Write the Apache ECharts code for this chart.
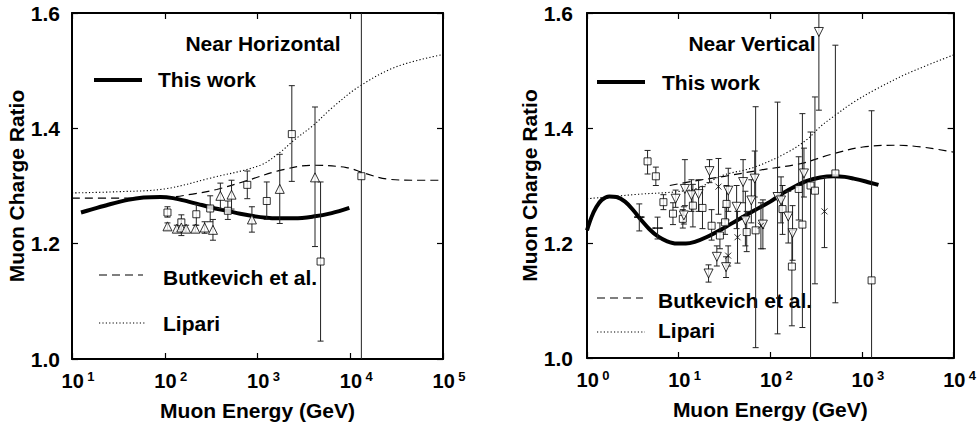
<!DOCTYPE html>
<html>
<head>
<meta charset="utf-8">
<script src="https://cdn.jsdelivr.net/npm/echarts@6/dist/echarts.min.js"></script>
<style>
html,body{margin:0;padding:0;background:#fff;}
#chart{width:979px;height:426px;}
</style>
</head>
<body>
<div id="chart"></div>
<script>
// ---------- tick labels ----------
const yTicks = [1.0, 1.2, 1.4, 1.6];
const leftXTicks = [10, 100, 1000, 10000, 100000];
const rightXTicks = [1, 10, 100, 1000, 10000];

// ---------- LEFT PANEL: Near Horizontal ----------
const leftThisWorkE = [12.5, 16, 25, 40, 59, 90, 123, 180, 251, 350, 468, 650, 891, 1250, 1622, 2500, 3981, 6310, 9772];
const leftThisWorkR = [1.254, 1.259, 1.268, 1.276, 1.280, 1.281, 1.279, 1.273, 1.267, 1.261, 1.257, 1.252, 1.248, 1.245, 1.244, 1.244, 1.247, 1.253, 1.262];
const leftButkE = [10, 30, 100, 200, 363, 794, 1738, 3981, 9120, 13800, 25000, 50000, 100000];
const leftButkR = [1.279, 1.279, 1.280, 1.286, 1.294, 1.310, 1.327, 1.336, 1.332, 1.323, 1.312, 1.310, 1.310];
const leftLipE = [10, 30, 100, 316, 1072, 1738, 2500, 3981, 6310, 12590, 31620, 100000];
const leftLipR = [1.288, 1.290, 1.295, 1.314, 1.336, 1.358, 1.380, 1.405, 1.435, 1.473, 1.507, 1.528];

const leftSqE  = [107, 151, 219, 309, 479, 776, 1259, 2344, 4786, 13180];
const leftSqR  = [1.254, 1.237, 1.251, 1.261, 1.257, 1.302, 1.274, 1.390, 1.169, 1.317];
const leftSqLo = [1.246, 1.225, 1.232, 1.238, 1.242, 1.278, 1.242, 1.308, 1.031, 0.95];
const leftSqHi = [1.264, 1.250, 1.268, 1.283, 1.274, 1.326, 1.307, 1.474, 1.307, 1.65];

const leftTriE  = [107, 135, 151, 170, 214, 269, 331, 398, 525, 871, 1738, 4169];
const leftTriR  = [1.230, 1.226, 1.228, 1.226, 1.226, 1.228, 1.224, 1.283, 1.285, 1.242, 1.295, 1.315];
const leftTriLo = [1.224, 1.220, 1.214, 1.220, 1.220, 1.218, 1.206, 1.261, 1.260, 1.220, 1.235, 1.195];
const leftTriHi = [1.236, 1.232, 1.242, 1.232, 1.232, 1.238, 1.242, 1.305, 1.310, 1.264, 1.355, 1.437];

// ---------- RIGHT PANEL: Near Vertical ----------
const rightThisWorkE = [1.0, 1.12, 1.26, 1.45, 1.75, 2.1, 2.6, 3.2, 3.9, 4.8, 6.0, 7.5, 9.5, 12, 15, 20, 29.5, 45, 67.6, 100, 132, 190, 251, 350, 490, 650, 813, 1100, 1514];
const rightThisWorkR = [1.222, 1.245, 1.262, 1.275, 1.281, 1.280, 1.272, 1.257, 1.240, 1.224, 1.211, 1.203, 1.199, 1.199, 1.202, 1.210, 1.224, 1.241, 1.257, 1.272, 1.285, 1.299, 1.308, 1.314, 1.316, 1.315, 1.312, 1.307, 1.301];
const rightButkE = [8, 15, 31.6, 79, 214, 457, 1023, 2570, 10000];
const rightButkR = [1.300, 1.308, 1.316, 1.327, 1.338, 1.354, 1.367, 1.370, 1.358];
const rightLipE = [1, 3.16, 15, 29.5, 67.6, 155, 251, 355, 490, 813, 1445, 3162, 10000];
const rightLipR = [1.277, 1.284, 1.294, 1.317, 1.332, 1.358, 1.380, 1.403, 1.420, 1.445, 1.468, 1.495, 1.527];

const rightSqE  = [4.58, 5.64, 6.82, 8.67, 11.1, 14.3, 18.2, 22.9, 28.2, 32.1, 33.3, 55.3, 69.2, 136, 172, 204, 224, 275, 307, 513, 1274];
const rightSqR  = [1.342, 1.316, 1.271, 1.251, 1.242, 1.265, 1.261, 1.230, 1.213, 1.236, 1.268, 1.219, 1.222, 1.259, 1.159, 1.294, 1.232, 1.300, 1.291, 1.321, 1.135];
const rightSqLo = [1.320, 1.300, 1.258, 1.232, 1.226, 1.228, 1.225, 1.205, 1.190, 1.215, 1.240, 1.185, 1.018, 1.215, 1.056, 1.240, 1.053, 0.950, 1.129, 1.096, 0.950];
const rightSqHi = [1.361, 1.332, 1.284, 1.270, 1.258, 1.302, 1.298, 1.258, 1.235, 1.262, 1.300, 1.255, 1.437, 1.300, 1.222, 1.350, 1.425, 1.393, 1.454, 1.544, 1.430];

const rightTriE  = [9.27, 11.4, 11.7, 13.8, 16.5, 21.7, 21.2, 26.1, 32.9, 34.8, 42.9, 50.5, 53.5, 67.6, 62.1, 83, 120, 131, 157, 175, 233, 339];
const rightTriR  = [1.277, 1.248, 1.294, 1.283, 1.285, 1.325, 1.147, 1.176, 1.158, 1.291, 1.263, 1.306, 1.239, 1.312, 1.274, 1.232, 1.280, 1.274, 1.246, 1.217, 1.321, 1.567];
const rightTriLo = [1.262, 1.233, 1.265, 1.255, 1.255, 1.305, 1.132, 1.160, 1.140, 1.255, 1.225, 1.270, 1.195, 1.280, 1.235, 1.190, 1.042, 1.235, 1.200, 1.170, 1.280, 1.431];
const rightTriHi = [1.292, 1.263, 1.345, 1.310, 1.310, 1.345, 1.162, 1.195, 1.176, 1.330, 1.300, 1.345, 1.290, 1.360, 1.310, 1.275, 1.445, 1.315, 1.290, 1.265, 1.365, 1.700];

const rightXE  = [27.2, 34.7, 43.9, 79, 390];
const rightXR  = [1.298, 1.178, 1.210, 1.230, 1.255];
const rightXLo = [1.250, 1.160, 1.165, 1.190, 1.192];
const rightXHi = [1.347, 1.195, 1.255, 1.270, 1.314];

const rightPlusE  = [3.72, 5.89];
const rightPlusR  = [1.245, 1.226];
const rightPlusLo = [1.221, 1.207];
const rightPlusHi = [1.268, 1.245];

// ---------- helpers ----------
const FONT = "'Liberation Sans', Arial, Helvetica, sans-serif";
const pairs = (xs, ys) => xs.map((x, i) => [x, ys[i]]);
const quads = (xs, ys, lo, hi) => xs.map((x, i) => [x, ys[i], lo[i], hi[i]]);

function errRender(params, api) {
  const x = api.value(0);
  const lo = api.coord([x, api.value(2)]);
  const hi = api.coord([x, api.value(3)]);
  const cap = 3;
  const st = { stroke: '#222', lineWidth: 1 };
  return {
    type: 'group',
    children: [
      { type: 'line', shape: { x1: lo[0], y1: lo[1], x2: hi[0], y2: hi[1] }, style: st },
      { type: 'line', shape: { x1: lo[0] - cap, y1: lo[1], x2: lo[0] + cap, y2: lo[1] }, style: st },
      { type: 'line', shape: { x1: hi[0] - cap, y1: hi[1], x2: hi[0] + cap, y2: hi[1] }, style: st }
    ]
  };
}
function errSeries(data, g) {
  return { type: 'custom', xAxisIndex: 2 * g, yAxisIndex: 2 * g, clip: true, silent: true,
    encode: { x: 0, y: [1, 2, 3] }, renderItem: errRender, data: data, z: 3 };
}
function lineSeries(data, g, style) {
  return { type: 'line', xAxisIndex: 2 * g, yAxisIndex: 2 * g, data: data, smooth: 0.35,
    showSymbol: false, symbol: 'none', lineStyle: style, clip: true, silent: true, z: 2 };
}
function markSeries(data, g, symbol, size, rotate, fill) {
  return { type: 'scatter', xAxisIndex: 2 * g, yAxisIndex: 2 * g, data: data, symbol: symbol,
    symbolSize: size, symbolRotate: rotate || 0, silent: true, z: 4,
    itemStyle: { color: fill || '#fff', borderColor: '#000', borderWidth: 1 } };
}

const expLabel = {
  show: true, margin: 11, padding: [0, 0, 0, 12],
  formatter: v => '{b|10} {s|' + Math.round(Math.log10(v)) + '}',
  rich: {
    b: { fontFamily: FONT, fontWeight: 'bold', fontSize: 20, color: '#000', lineHeight: 22 },
    s: { fontFamily: FONT, fontWeight: 'bold', fontSize: 13, color: '#000', verticalAlign: 'top', lineHeight: 12 }
  },
  fontFamily: FONT, fontWeight: 'bold', fontSize: 12, color: '#000'
};
const axisLineStyle = { show: true, onZero: false, lineStyle: { color: '#000', width: 2 } };
const tickStyle = { show: true, inside: true, length: 6, lineStyle: { color: '#000', width: 1.2 } };
const nameStyle = { fontFamily: FONT, fontWeight: 'bold', fontSize: 21, color: '#000' };

function xAxes(g, ticks) {
  return [
    { type: 'log', logBase: 10, gridIndex: g, min: ticks[0], max: ticks[ticks.length - 1], position: 'bottom',
      axisLine: axisLineStyle, axisTick: tickStyle, axisLabel: expLabel, splitLine: { show: false },
      minorTick: { show: false },
      name: 'Muon Energy (GeV)', nameLocation: 'middle', nameGap: 41, nameTextStyle: nameStyle },
    { type: 'log', logBase: 10, gridIndex: g, min: ticks[0], max: ticks[ticks.length - 1], position: 'top',
      axisLine: axisLineStyle, axisTick: tickStyle, axisLabel: { show: false }, splitLine: { show: false } }
  ];
}
function yAxes(g, margin) {
  return [
    { type: 'value', gridIndex: g, min: yTicks[0], max: yTicks[yTicks.length - 1], interval: 0.2, position: 'left',
      axisLine: axisLineStyle, axisTick: tickStyle, splitLine: { show: false },
      axisLabel: { margin: margin, fontFamily: FONT, fontWeight: 'bold', fontSize: 21, color: '#000',
        formatter: v => v.toFixed(1) },
      name: 'Muon Charge Ratio', nameLocation: 'middle', nameGap: 45, nameTextStyle: nameStyle },
    { type: 'value', gridIndex: g, min: yTicks[0], max: yTicks[yTicks.length - 1], interval: 0.2, position: 'right',
      axisLine: axisLineStyle, axisTick: tickStyle, axisLabel: { show: false }, splitLine: { show: false } }
  ];
}

const thick = { color: '#000', width: 4 };
const dashed = { color: '#000', width: 1.2, type: [8, 5] };
const dotted = { color: '#000', width: 1.1, type: [1.2, 2.2] };

function txt(x, y, s, align) {
  return { type: 'text', x: x, y: y, silent: true,
    style: { text: s, font: 'bold 21px ' + FONT, fill: '#000', align: align || 'left', verticalAlign: 'middle' } };
}
function seg(x1, x2, y, st) {
  return { type: 'line', silent: true, shape: { x1: x1, y1: y, x2: x2, y2: y },
    style: { stroke: '#000', lineWidth: st.width, lineDash: Array.isArray(st.type) ? st.type : null } };
}

const chart = echarts.init(document.getElementById('chart'), null, { renderer: 'svg' });
chart.setOption({
  animation: false,
  backgroundColor: '#fff',
  grid: [
    { left: 72, top: 13, width: 371, height: 347 },
    { left: 587, top: 13, width: 371, height: 345 }
  ],
  xAxis: [...xAxes(0, leftXTicks), ...xAxes(1, rightXTicks)],
  yAxis: [...yAxes(0, 12), ...yAxes(1, 14)],
  series: [
    lineSeries(pairs(leftLipE, leftLipR), 0, dotted),
    lineSeries(pairs(leftButkE, leftButkR), 0, dashed),
    lineSeries(pairs(leftThisWorkE, leftThisWorkR), 0, thick),
    errSeries(quads(leftSqE, leftSqR, leftSqLo, leftSqHi), 0),
    errSeries(quads(leftTriE, leftTriR, leftTriLo, leftTriHi), 0),
    markSeries(pairs(leftSqE, leftSqR), 0, 'rect', 7),
    markSeries(pairs(leftTriE, leftTriR), 0, 'triangle', 9),

    lineSeries(pairs(rightLipE, rightLipR), 1, dotted),
    lineSeries(pairs(rightButkE, rightButkR), 1, dashed),
    lineSeries(pairs(rightThisWorkE, rightThisWorkR), 1, thick),
    errSeries(quads(rightSqE, rightSqR, rightSqLo, rightSqHi), 1),
    errSeries(quads(rightTriE, rightTriR, rightTriLo, rightTriHi), 1),
    errSeries(quads(rightXE, rightXR, rightXLo, rightXHi), 1),
    errSeries(quads(rightPlusE, rightPlusR, rightPlusLo, rightPlusHi), 1),
    markSeries(pairs(rightSqE, rightSqR), 1, 'rect', 7),
    markSeries(pairs(rightTriE, rightTriR), 1, 'triangle', 9, 180),
    markSeries(pairs(rightXE, rightXR), 1, 'path://M0,0L10,10M10,0L0,10', 6, 0, 'none'),
    markSeries(pairs(rightPlusE, rightPlusR), 1, 'rect', [8, 1.3], 0, '#000')
  ],
  graphic: [
    txt(263, 43, 'Near Horizontal', 'center'),
    seg(94, 142, 80, thick), txt(158, 79, 'This work'),
    seg(99, 143, 275, dashed), txt(163, 277, 'Butkevich et al.'),
    seg(99, 145, 323, dotted), txt(163, 323, 'Lipari'),

    txt(752, 43, 'Near Vertical', 'center'),
    seg(597, 645, 82, thick), txt(662, 82, 'This work'),
    seg(597, 643, 298, dashed), txt(658, 300, 'Butkevich et al.'),
    seg(597, 645, 332, dotted), txt(658, 330, 'Lipari')
  ]
});
</script>
</body>
</html>
